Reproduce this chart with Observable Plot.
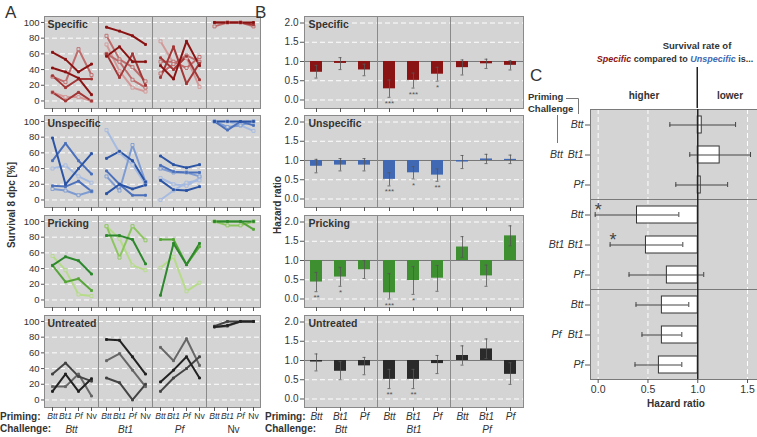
<!DOCTYPE html>
<html><head><meta charset="utf-8">
<script src="https://cdn.jsdelivr.net/npm/d3@7"></script>
<script src="https://cdn.jsdelivr.net/npm/@observablehq/plot@0.6"></script>
<style>
body{margin:0;background:#fff;}
#fig{position:relative;width:757px;height:437px;overflow:hidden;font-family:'Liberation Sans',Arial,Helvetica,sans-serif;color:#333;background:#fff;}
#fig > svg{position:absolute;}
.lbl{position:absolute;white-space:nowrap;line-height:1;}
</style></head><body><div id="fig"></div>
<script>
// ---------- Panel A data: survival 8 dpc [%] ----------
const primingA = ["Btt","Bt1","Pf","Nv"];
const challengesA = ["Btt","Bt1","Pf","Nv"];
const groups = ["Specific","Unspecific","Pricking","Untreated"];

const survivalSpecific = [
  {c:"Btt", s:0, v:[62,53,37,47]}, {c:"Btt", s:0, v:[42,37,29,8]},
  {c:"Btt", s:1, v:[32,17,28,28]}, {c:"Btt", s:2, v:[31,24,66,33]},
  {c:"Btt", s:1, v:[11,0,11,0]},   {c:"Btt", s:3, v:[11,5,5,0]},
  {c:"Bt1", s:0, v:[94,89,83,72]}, {c:"Bt1", s:0, v:[57,69,50,50]},
  {c:"Bt1", s:1, v:[60,30,60,20]}, {c:"Bt1", s:2, v:[83,53,43,25]},
  {c:"Bt1", s:3, v:[72,38,17,12]}, {c:"Bt1", s:2, v:[60,50,27,17]},
  {c:"Pf", s:3, v:[76,48,55,18]},  {c:"Pf", s:0, v:[45,28,76,45]},
  {c:"Pf", s:1, v:[30,69,22,48]},  {c:"Pf", s:2, v:[50,50,42,56]},
  {c:"Pf", s:1, v:[55,40,57,27]},  {c:"Pf", s:2, v:[35,47,58,50]},
  {c:"Nv", s:2, v:[95,100,100,95]},{c:"Nv", s:1, v:[100,100,100,97]},
  {c:"Nv", s:0, v:[100,100,100,100]}
];
const survivalUnspecific = [
  {c:"Btt", s:0, v:[79,20,40,59]}, {c:"Btt", s:1, v:[50,72,50,33]},
  {c:"Btt", s:1, v:[18,17,24,11]}, {c:"Btt", s:3, v:[40,44,30,22]},
  {c:"Btt", s:2, v:[14,12,6,11]},
  {c:"Bt1", s:3, v:[89,60,45,20]}, {c:"Bt1", s:0, v:[53,62,50,23]},
  {c:"Bt1", s:0, v:[8,20,14,19]},  {c:"Bt1", s:1, v:[37,20,6,6]},
  {c:"Bt1", s:2, v:[30,12,70,23]},
  {c:"Pf", s:0, v:[56,45,41,45]},  {c:"Pf", s:1, v:[44,36,35,35]},
  {c:"Pf", s:2, v:[40,35,35,30]},  {c:"Pf", s:3, v:[28,20,18,28]},
  {c:"Pf", s:0, v:[25,13,12,17]},  {c:"Pf", s:3, v:[0,12,22,25]},
  {c:"Nv", s:3, v:[100,100,95,88]},{c:"Nv", s:2, v:[100,93,95,100]},
  {c:"Nv", s:1, v:[100,89,100,95]},{c:"Nv", s:0, v:[100,100,100,100]}
];
const survivalPricking = [
  {c:"Btt", s:0, v:[44,55,50,33]}, {c:"Btt", s:1, v:[44,23,27,12]},
  {c:"Btt", s:3, v:[56,38,7,5]},
  {c:"Bt1", s:0, v:[82,82,77,46]}, {c:"Bt1", s:2, v:[94,54,94,76]},
  {c:"Bt1", s:3, v:[94,78,44,38]},
  {c:"Pf", s:0, v:[6,72,45,72]},   {c:"Pf", s:1, v:[77,77,45,68]},
  {c:"Pf", s:3, v:[41,55,11,22]},
  {c:"Nv", s:2, v:[100,95,95,100]},{c:"Nv", s:1, v:[100,100,100,90]},
  {c:"Nv", s:0, v:[100,100,100,100]}
];
const survivalUntreated = [
  {c:"Btt", s:0, v:[11,33,11,27]}, {c:"Btt", s:1, v:[33,47,30,24]},
  {c:"Btt", s:2, v:[17,17,33,5]},
  {c:"Bt1", s:0, v:[77,76,55,33]}, {c:"Bt1", s:2, v:[50,59,38,17]},
  {c:"Bt1", s:1, v:[28,22,0,20]},
  {c:"Pf", s:2, v:[67,50,78,44]},  {c:"Pf", s:0, v:[23,38,55,28]},
  {c:"Pf", s:1, v:[11,28,40,55]},
  {c:"Nv", s:2, v:[93,94,100,100]},{c:"Nv", s:1, v:[94,100,100,100]},
  {c:"Nv", s:0, v:[93,95,100,100]}
];
const shadesSpecific   = ["#8a1414","#a33838","#bf6c6c","#d49a9a"];
const shadesUnspecific = ["#2c55a5","#4d72bb","#7e9cd2","#a6bbe2"];
const shadesPricking   = ["#2e882e","#58a63a","#8dc660","#b6dc8a"];
const shadesUntreated  = ["#232323","#444444","#676767","#888888"];

// ---------- Panel B data: hazard ratio [value, lower, upper] ----------
const primingB = ["Btt","Bt1","Pf"];
const challengesB = ["Btt","Bt1","Pf"];
const hrSpecific = [[0.72,0.57,0.90],[0.95,0.79,1.10],[0.78,0.63,0.93],
                    [0.29,0.07,0.52],[0.51,0.31,0.70],[0.67,0.49,0.85],
                    [0.84,0.65,1.04],[0.94,0.82,1.06],[0.90,0.78,1.02]];
const starsSpecific = ["","","","***","***","*","","",""];
const hrUnspecific = [[0.85,0.68,1.03],[0.88,0.73,1.05],[0.88,0.73,1.05],
                      [0.51,0.34,0.68],[0.68,0.52,0.84],[0.62,0.46,0.78],
                      [0.96,0.79,1.13],[1.04,0.92,1.16],[1.03,0.92,1.14]];
const starsUnspecific = ["","","","***","*","**","","",""];
const hrPricking = [[0.44,0.19,0.69],[0.57,0.33,0.82],[0.76,0.53,1.00],
                    [0.16,0.00,0.66],[0.48,0.12,0.84],[0.54,0.20,0.87],
                    [1.35,1.08,1.62],[0.60,0.33,0.88],[1.64,1.38,1.90]];
const starsPricking = ["**","*","","***","*","","","",""];
const hrUntreated = [[0.96,0.73,1.17],[0.72,0.50,0.97],[0.86,0.63,1.08],
                     [0.51,0.27,0.77],[0.51,0.27,0.77],[0.92,0.66,1.13],
                     [1.13,0.88,1.38],[1.30,1.05,1.56],[0.64,0.38,0.94]];
const starsUntreated = ["","","","**","**","","","",""];
const barColors = ["#8a1414","#4169b3","#3e8f30","#2a2a2a"];

// ---------- Panel C data ----------
const primingC = ["Btt","Bt1","Pf"];
const challengeC = ["Btt","Bt1","Pf"];
const hrC = [1.04,1.22,1.03, 0.39,0.48,0.69, 0.64,0.64,0.61];
const loC = [0.72,0.92,0.78, -0.03,0.12,0.31, 0.38,0.44,0.37];
const hiC = [1.38,1.53,1.30, 0.81,0.85,1.06, 0.91,0.84,0.84];
const starsC = ["","","","*","*","","","",""];

// ---------- drawing ----------
const FONT = "'Liberation Sans', Arial, Helvetica, sans-serif";
const BG = "#d4d4d4", FRAME = "#8a8a8a";
const fig = document.getElementById("fig");
const rowTops = [16, 115, 215, 315];

function italicize(svg){
  d3.select(svg).selectAll("text").each(function(){
    if (["Btt","Bt1","Pf"].includes(this.textContent.trim())) this.style.fontStyle = "italic";
  });
}
function place(svg, left, top){
  svg.style.left = left + "px"; svg.style.top = top + "px";
  italicize(svg); fig.appendChild(svg);
}
function lbl(html, x, y, o = {}){
  const d = document.createElement("div");
  d.className = "lbl"; d.innerHTML = html;
  d.style.left = x + "px"; d.style.top = y + "px";
  d.style.fontSize = (o.size || 10) + "px";
  if (o.bold) d.style.fontWeight = "bold";
  if (o.italic) d.style.fontStyle = "italic";
  if (o.color) d.style.color = o.color;
  const tx = o.anchor === "start" ? "0" : o.anchor === "end" ? "-100%" : "-50%";
  d.style.transform = `translate(${tx},-50%)` + (o.rotate ? ` rotate(${o.rotate}deg)` : "");
  fig.appendChild(d);
}
const baseStyle = (fs) => ({fontFamily: FONT, fontSize: fs, color: "#333", background: "transparent", overflow: "visible"});

function rowA(gi, lines, shades, hollow, bottom){
  const flat = lines.flatMap((l, i) => l.v.map((v, j) => ({id: i, challenge: l.c, priming: primingA[j], value: v, shade: l.s})))
    .sort((a, b) => b.shade - a.shade);
  const isHollow = d => hollow && d.shade >= 2;
  const mb = bottom ? 28 : 6;
  const pos = {fx: "challenge", x: "priming", y: "value", symbol: "square", stroke: d => shades[d.shade], strokeWidth: 0.9};
  return Plot.plot({
    width: 265, height: 93 + mb, marginLeft: 43, marginRight: 4, marginTop: 1, marginBottom: mb,
    style: baseStyle("8.6px"),
    fx: {domain: challengesA, padding: 0, axis: null},
    x: {domain: primingA, padding: 0.5, axis: null},
    y: {domain: [-9.6, 107.6], axis: null},
    color: {type: "identity"},
    marks: [
      Plot.frame({fill: BG}),
      Plot.gridY([0,20,40,60,80,100], {stroke: "#fff", strokeOpacity: 1, strokeDasharray: "5,3"}),
      Plot.frame({stroke: FRAME}),
      Plot.line(flat, {fx: "challenge", x: "priming", y: "value", z: "id", stroke: d => shades[d.shade], strokeWidth: 2}),
      Plot.dot(flat.filter(isHollow), {...pos, r: 1.7, fill: BG}),
      Plot.dot(flat.filter(d => !isHollow(d)), {...pos, r: 1.1, fill: d => shades[d.shade]}),
      Plot.axisY([0,20,40,60,80,100], {tickSize: 3, tickPadding: 2, label: null, stroke: "#555", fontSize: 9.5}),
      Plot.axisX({tickSize: 4, tickPadding: 1.5, label: null, stroke: "#555", tickFormat: bottom ? (d => d) : (() => "")}),
      Plot.text([challengesA[0]], {fx: d => d, frameAnchor: "top-left", dx: 3, dy: 8, text: () => groups[gi],
        fontWeight: "bold", fontSize: 10.5, lineAnchor: "middle", textAnchor: "start", fill: "#333"}),
      bottom ? Plot.text(challengesA, {fx: d => d, frameAnchor: "bottom", dy: 22, text: d => d, fontSize: 10,
        lineAnchor: "middle", textAnchor: "middle", fill: "#333"}) : null
    ]
  });
}

function rowB(gi, hr, stars, color, bottom){
  const data = hr.map((d, i) => ({challenge: challengesB[Math.floor(i / 3)], priming: primingB[i % 3], hr: d[0], lo: d[1], hi: d[2], star: stars[i]}));
  const mb = bottom ? 28 : 6;
  const ch = {fx: "challenge", x: "priming"};
  return Plot.plot({
    width: 265, height: 93 + mb, marginLeft: 42, marginRight: 4, marginTop: 1, marginBottom: mb,
    style: baseStyle("10px"),
    fx: {domain: challengesB, padding: 0, axis: null},
    x: {domain: primingB, paddingInner: 0.48, paddingOuter: 0.24, axis: null},
    y: {domain: [-0.221, 2.169], axis: null},
    marks: [
      Plot.frame({fill: BG}),
      Plot.gridY([0,0.5,1.5,2], {stroke: "#fff", strokeOpacity: 1, strokeDasharray: "5,3"}),
      Plot.ruleY([1], {stroke: "#777"}),
      Plot.frame({stroke: FRAME}),
      Plot.barY(data, {...ch, y1: 1, y2: "hr", fill: color}),
      Plot.ruleX(data, {...ch, y1: "lo", y2: "hi", stroke: "#555", strokeWidth: 0.8}),
      Plot.tickY(data, {...ch, y: "lo", stroke: "#555", strokeWidth: 0.8, insetLeft: 4.5, insetRight: 4.5}),
      Plot.tickY(data, {...ch, y: "hi", stroke: "#555", strokeWidth: 0.8, insetLeft: 4.5, insetRight: 4.5}),
      Plot.text(data.filter(d => d.star), {...ch, y: "lo", text: "star", dy: 6, fontSize: 8, fill: "#555"}),
      Plot.axisY([0,0.5,1,1.5,2], {tickFormat: d3.format(".1f"), tickSize: 4, tickPadding: 2, label: null, stroke: "#555"}),
      Plot.axisX({tickSize: 4, tickPadding: 1.5, label: null, stroke: "#555", tickFormat: bottom ? (d => d) : (() => "")}),
      Plot.text([challengesB[0]], {fx: d => d, frameAnchor: "top-left", dx: 4, dy: 8, text: () => groups[gi],
        fontWeight: "bold", fontSize: 10.5, lineAnchor: "middle", textAnchor: "start", fill: "#333"}),
      bottom ? Plot.text(challengesB, {fx: d => d, frameAnchor: "bottom", dy: 22, text: d => d, fontSize: 10,
        lineAnchor: "middle", textAnchor: "middle", fill: "#333"}) : null
    ]
  });
}

const surv = [survivalSpecific, survivalUnspecific, survivalPricking, survivalUntreated];
const shades = [shadesSpecific, shadesUnspecific, shadesPricking, shadesUntreated];
const hrs = [hrSpecific, hrUnspecific, hrPricking, hrUntreated];
const stars = [starsSpecific, starsUnspecific, starsPricking, starsUntreated];
for (let g = 0; g < 4; g++){
  place(rowA(g, surv[g], shades[g], g < 3, g === 3), 0, rowTops[g] - 1);
  place(rowB(g, hrs[g], stars[g], barColors[g], g === 3), 262, rowTops[g] - 1);
}

// Panel C
const dataC = hrC.map((h, i) => ({challenge: challengeC[Math.floor(i / 3)], priming: primingC[i % 3], hr: h, lo: loC[i], hi: hiC[i], star: starsC[i]}));
const cTop = 67, cMT = 108 - cTop;
const chC = {fy: "challenge", y: "priming"};
const chartC = Plot.plot({
  width: 277, height: cMT + 271 + 36, marginLeft: 110, marginRight: 0, marginTop: cMT, marginBottom: 36,
  style: baseStyle("10.5px"),
  fy: {domain: challengeC, padding: 0, axis: null},
  y: {domain: primingC, paddingInner: 0.45, paddingOuter: 0.225, axis: null},
  x: {domain: [-0.077, 1.6], axis: null},
  marks: [
    Plot.frame({fill: BG}),
    Plot.gridX([0,0.5,1.5], {stroke: "#fff", strokeOpacity: 1, strokeDasharray: "5,3"}),
    Plot.frame({stroke: "#7a7a7a"}),
    Plot.barX(dataC, {...chC, x1: 1, x2: "hr", fill: "#fff", stroke: "#333", strokeWidth: 1}),
    Plot.ruleY(dataC, {...chC, x1: "lo", x2: "hi", stroke: "#444", strokeWidth: 1}),
    Plot.tickX(dataC, {...chC, x: "lo", stroke: "#444", insetTop: 6, insetBottom: 6}),
    Plot.tickX(dataC, {...chC, x: "hi", stroke: "#444", insetTop: 6, insetBottom: 6}),
    Plot.ruleX([1], {stroke: "#222", strokeWidth: 1.5}),
    Plot.text(dataC.filter(d => d.star), {...chC, x: "lo", text: "star", dx: 3, dy: -5, fontSize: 18, fill: "#444"}),
    Plot.axisY({tickSize: 5, tickPadding: 2, label: null, stroke: "#555"}),
    Plot.axisX([0,0.5,1,1.5], {tickFormat: d3.format(".1f"), tickSize: 4, tickPadding: 2, label: null, stroke: "#555"}),
    Plot.text(challengeC, {fy: d => d, y: () => "Bt1", text: d => d, frameAnchor: "left", dx: -34, textAnchor: "middle", fill: "#333"})
  ]
});
const xsC = chartC.scale("x");
d3.select(chartC).append("line")
  .attr("x1", xsC.apply(1)).attr("x2", xsC.apply(1)).attr("y1", 0).attr("y2", cMT)
  .attr("stroke", "#222").attr("stroke-width", 1.5);
place(chartC, 480, cTop);

// bracket lines for C row labels
const br = d3.create("svg").attr("width", 757).attr("height", 437).style("left", "0px").style("top", "0px").style("position", "absolute");
br.append("path").attr("d", "M566,98.5H578.5V114").attr("fill", "none").attr("stroke", "#777");
br.append("path").attr("d", "M557.5,115V143").attr("fill", "none").attr("stroke", "#777");
fig.appendChild(br.node());

// Text labels
lbl("A", 5, 12, {size: 17, anchor: "start"});
lbl("B", 255, 12, {size: 17, anchor: "start"});
lbl("C", 530, 75, {size: 17, anchor: "start"});
lbl("Survival 8 dpc [%]", 12, 205, {bold: true, rotate: -90});
lbl("Hazard ratio", 278, 205, {bold: true, rotate: -90});
lbl("Priming:", 0, 417, {bold: true, anchor: "start"});
lbl("Challenge:", 0, 429, {bold: true, anchor: "start"});
lbl("Priming:", 265, 417, {bold: true, anchor: "start"});
lbl("Challenge:", 265, 429, {bold: true, anchor: "start"});
lbl("Survival rate of", 697, 46, {bold: true, size: 9.5});
lbl("<span style='color:#8a1414;font-style:italic'>Specific</span> compared to <span style='color:#4169b3;font-style:italic'>Unspecific</span> is...", 675, 59, {bold: true, size: 9});
lbl("higher", 644, 96, {bold: true});
lbl("lower", 730, 96, {bold: true});
lbl("Priming", 528, 97, {bold: true, anchor: "start", size: 9.5});
lbl("Challenge", 528, 109, {bold: true, anchor: "start", size: 9.5});
lbl("Hazard ratio", 676, 404, {bold: true});
</script></body></html>
